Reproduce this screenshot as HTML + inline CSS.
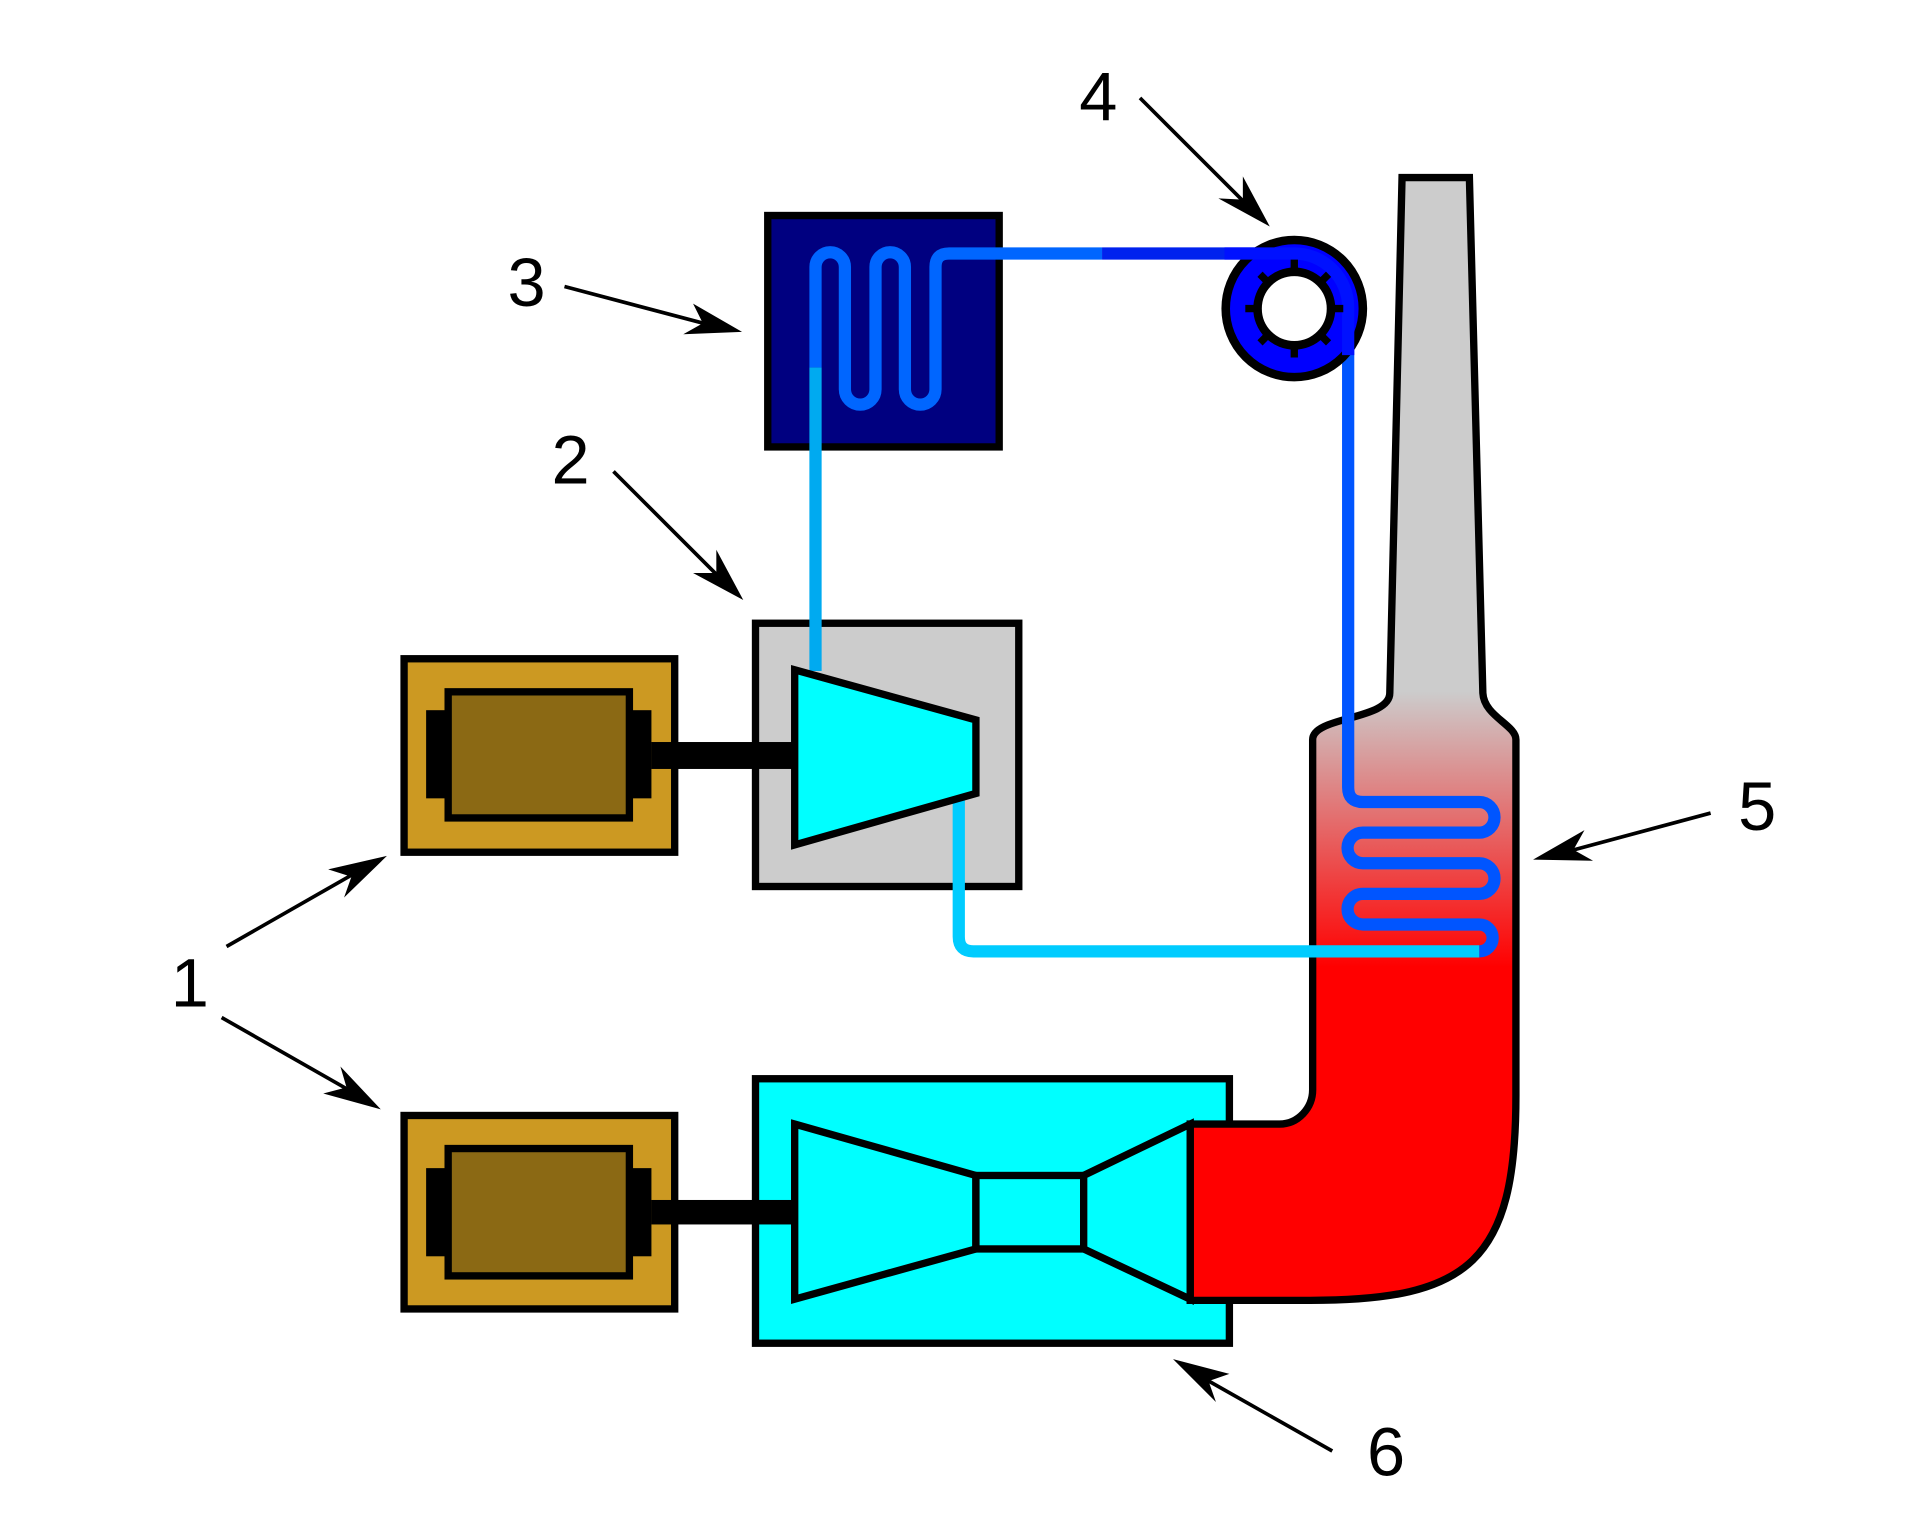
<!DOCTYPE html>
<html><head><style>html,body{margin:0;padding:0;background:#fff}svg{display:block}</style></head>
<body>
<svg width="1920" height="1522" viewBox="0 0 1568 1243" preserveAspectRatio="none" xmlns="http://www.w3.org/2000/svg">
<defs>
<linearGradient id="ch" gradientUnits="userSpaceOnUse" x1="0" y1="565" x2="0" y2="790">
<stop offset="0" stop-color="#cccccc"/><stop offset="1" stop-color="#ff0000"/></linearGradient>
</defs>
<!-- motors -->
<g stroke="#000" stroke-width="6">
<rect x="330" y="538" width="221" height="158" fill="#cc9922"/>
<rect x="366" y="565" width="148" height="103" fill="#8b6914"/>
<rect x="330" y="911" width="221" height="158" fill="#cc9922"/>
<rect x="366" y="938" width="148" height="104" fill="#8b6914"/>
</g>
<!-- box 2 -->
<rect x="617" y="509" width="215" height="215" fill="#cccccc" stroke="#000" stroke-width="6"/>
<!-- box 3 -->
<rect x="627" y="176" width="189" height="189" fill="#000080" stroke="#000" stroke-width="6"/>
<!-- box 6 -->
<rect x="617" y="881" width="387" height="216" fill="#00ffff" stroke="#000" stroke-width="6"/>
<!-- chimney -->
<path d="M1145,145 L1200,145 L1211,566 C1212,585 1238,592 1238,604 L1238,895 C1238,1030 1200,1062 1070,1062 L972,1062 L972,918 L1045,918 C1060,918 1072,905 1072,890 L1072,604 C1072,585 1135,588 1135,566 Z" fill="url(#ch)" stroke="#000" stroke-width="6"/>
<g fill="#000">
<rect x="348" y="580" width="18" height="72"/><rect x="514" y="580" width="18" height="72"/>
<rect x="532" y="606" width="116" height="22"/>
<rect x="348" y="954" width="18" height="72"/><rect x="514" y="954" width="18" height="72"/>
<rect x="532" y="980" width="116" height="20"/>
</g>
<!-- pipes -->
<g fill="none" stroke-width="10" stroke-linejoin="round">
<path d="M666,548 L666,300" stroke="#00aaf0"/>
<path d="M666,300 L666,218 A12,12 0 0 1 690,218 L690,318 A12.5,12.5 0 0 0 715,318 L715,218 A12,12 0 0 1 739,218 L739,318 A12.5,12.5 0 0 0 764,318 L764,218 Q764,207 775,207 L900,207" stroke="#0066ff"/>
<path d="M900,207 L1057,207" stroke="#0022ee"/>
<path d="M1101,280 L1101,643 Q1101,655 1113,655 L1208,655 A12.5,12.5 0 0 1 1208,680 L1113,680 A12.5,12.5 0 0 0 1113,705 L1208,705 A12.5,12.5 0 0 1 1208,730 L1113,730 A12.5,12.5 0 0 0 1113,755 L1208,755 A11,11 0 0 1 1208,777" stroke="#0055ff"/>
<path d="M1208,777 L795,777 Q783,777 783,765 L783,650" stroke="#00ccff"/>
</g>
<!-- compressor -->
<polygon points="649,547 797,588 797,648 649,690" fill="#00ffff" stroke="#000" stroke-width="6"/>
<!-- turbine -->
<g fill="#00ffff" stroke="#000" stroke-width="6">
<polygon points="649,918 797,960 797,1020 649,1061"/>
<rect x="797" y="960" width="88" height="60"/>
<polygon points="885,960 972,918 972,1061 885,1020"/>
</g>
<!-- pump -->
<circle cx="1057" cy="252" r="56" fill="#0000ff" stroke="#000" stroke-width="7"/>
<path d="M1000,207 L1057,207 A44,44 0 0 1 1101,251 L1101,290" fill="none" stroke="#0011ff" stroke-width="10"/>
<g stroke="#000" stroke-width="6">
<line x1="1057" y1="212" x2="1057" y2="292"/><line x1="1017" y1="252" x2="1097" y2="252"/>
<line x1="1029" y1="224" x2="1085" y2="280"/><line x1="1085" y1="224" x2="1029" y2="280"/>
</g>
<circle cx="1057" cy="252" r="30" fill="#fff" stroke="#000" stroke-width="7"/>
<circle cx="1057" cy="252" r="26" fill="#fff"/>
<!-- arrows -->
<g stroke="#000" stroke-width="3" fill="none">
<line x1="185" y1="773" x2="290" y2="713"/>
<line x1="181" y1="831" x2="288" y2="892"/>
<line x1="501" y1="385" x2="588" y2="472"/>
<line x1="461" y1="234" x2="582" y2="266"/>
<line x1="931" y1="80" x2="1018" y2="167"/>
<line x1="1397" y1="664" x2="1278" y2="696"/>
<line x1="1088" y1="1185" x2="982" y2="1125"/>
</g>
<g fill="#000">
<polygon points="316,699 268,710 287,716 281,733"/>
<polygon points="311,906 278,871 283,888 264,893"/>
<polygon points="607,490 585,449 585,468 566,468"/>
<polygon points="606,271 566,248 574,264 558,273"/>
<polygon points="1037,185 1015,144 1015,163 995,162"/>
<polygon points="1252,702 1301,703 1285,694 1294,678"/>
<polygon points="958,1110 993,1145 987,1128 1004,1122"/>
</g>
<g font-family="Liberation Sans, sans-serif" font-size="56" fill="#000" text-anchor="middle">
<text x="155" y="822">1</text>
<text x="466" y="395">2</text>
<text x="430" y="250">3</text>
<text x="897" y="98">4</text>
<text x="1435" y="678">5</text>
<text x="1132" y="1205">6</text>
</g>
</svg>
</body></html>
